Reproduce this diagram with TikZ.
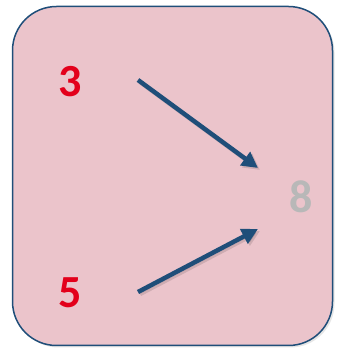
\documentclass[tikz,border=0pt]{standalone}
\usepackage{xcolor}
\usepackage{fontspec}
\setmainfont{Carlito}
\usepackage{tikz}
\usetikzlibrary{arrows.meta,shadows}

\definecolor{boxpink}{RGB}{235,196,203}
\definecolor{boxblue}{RGB}{31,78,121}
\definecolor{digitred}{RGB}{227,0,27}
\definecolor{digitgray}{RGB}{184,184,184}

\tikzset{
    digit/.style={font=\fontsize{46}{46}\selectfont\bfseries, inner sep=0pt},
    sumarrow/.style={draw=boxblue, line width=4.5pt, -{Triangle[length=16pt,width=16pt]}},
    arrowshadow/.style={sumarrow, draw=black, fill=black, opacity=0.12}
}

\begin{document}
\begin{tikzpicture}[x=1pt, y=1pt]
    \useasboundingbox (0,0) rectangle (339,350);
    \node[draw=boxblue, line width=1.5pt, rounded corners=44pt, fill=boxpink,
        minimum width=320pt, minimum height=339pt, inner sep=0pt,
        drop shadow={shadow xshift=2pt, shadow yshift=-2pt, opacity=0.2}] (card) at (172.5,174) {};
    \node[digit, text=digitred] (three) at (70,268) {3};
    \node[digit, text=digitred] (five) at (70,57) {5};
    \node[digit, text=digitgray] (eight) at (301,153) {8};
    \coordinate (fromthree) at (138,270);
    \coordinate (tothree) at (258,182);
    \coordinate (fromfive) at (138,58);
    \coordinate (tofive) at (258,121);
    % faint shadow under the arrows
    \draw[arrowshadow] ([shift={(2pt,-2pt)}]fromthree) -- ([shift={(2pt,-2pt)}]tothree);
    \draw[arrowshadow] ([shift={(2pt,-2pt)}]fromfive) -- ([shift={(2pt,-2pt)}]tofive);
    \draw[sumarrow] (fromthree) -- (tothree);
    \draw[sumarrow] (fromfive) -- (tofive);
\end{tikzpicture}
\end{document}
